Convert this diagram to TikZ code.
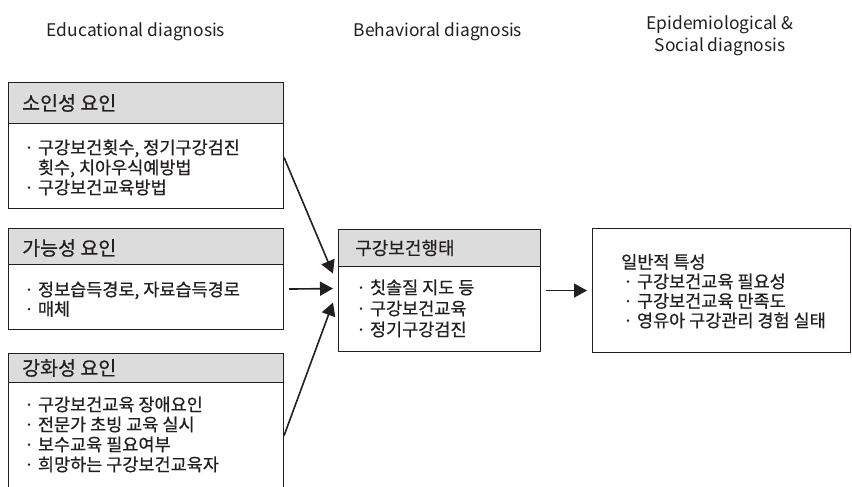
\documentclass[tikz,border=0pt]{standalone}
\usepackage{fontspec}
\setmainfont{Noto Sans CJK KR}
\newfontfamily\kfont{Noto Sans CJK KR}[FakeBold=0.5]
\usetikzlibrary{arrows.meta}
\definecolor{ink}{HTML}{231F20}
\definecolor{hdrgray}{HTML}{DCDCDC}
\tikzset{
  boxframe/.style={draw=ink, line width=1.1pt, fill=white, inner sep=0pt, anchor=north west},
  hdrbox/.style={draw=ink, line width=1.1pt, fill=hdrgray, inner sep=0pt, anchor=north west},
  hdrtext/.style={anchor=west, inner sep=0pt, text=ink, font=\kfont\fontsize{19.5}{22}\selectfont},
  bodytext/.style={anchor=base west, inner sep=0pt, text=ink, align=left, font=\kfont\fontsize{17.5}{20}\selectfont},
  coltitle/.style={anchor=center, inner sep=0pt, text=ink, align=center, font=\fontsize{17.4}{21.5}\selectfont},
  arr/.style={draw=ink, line width=1.6pt, -{Triangle[length=13pt,width=14pt]}}
}
\begin{document}
\begin{tikzpicture}[x=1pt,y=-1pt]
\useasboundingbox (0,0) rectangle (852,487);
% column titles
\node[coltitle] (t1) at (136,32) {Educational diagnosis};
\node[coltitle] (t2) at (438,32) {Behavioral diagnosis};
\node[coltitle] (t3) at (720,36) {Epidemiological \&\\Social diagnosis};
% box 1
\node[boxframe, minimum width=275pt, minimum height=126pt] (b1) at (8,82) {};
\node[hdrbox, minimum width=275pt, minimum height=41pt] (h1) at (8,82) {};
\node[hdrtext] (h1t) at (22,103) {소인성 요인};
\node[bodytext] (b1t) at (24,194) {· 구강보건횟수, 정기구강검진\\\hphantom{· }횟수, 치아우식예방법\\· 구강보건교육방법};
% box 2
\node[boxframe, minimum width=275pt, minimum height=101pt] (b2) at (8,228) {};
\node[hdrbox, minimum width=275pt, minimum height=36pt] (h2) at (8,228) {};
\node[hdrtext] (h2t) at (22,248) {가능성 요인};
\node[bodytext, font=\kfont\fontsize{17.5}{19.5}\selectfont] (b2t) at (24,315.5) {· 정보습득경로, 자료습득경로\\· 매체};
% box 3
\node[boxframe, minimum width=275pt, minimum height=140pt] (b3) at (8,353) {};
\node[hdrbox, minimum width=275pt, minimum height=29pt] (h3) at (8,353) {};
\node[hdrtext] (h3t) at (22,368) {강화성 요인};
\node[bodytext] (b3t) at (24,471) {· 구강보건교육 장애요인\\· 전문가 초빙 교육 실시\\· 보수교육 필요여부\\· 희망하는 구강보건교육자};
% middle box
\node[boxframe, minimum width=202pt, minimum height=122pt] (m) at (338,229) {};
\node[hdrbox, minimum width=202pt, minimum height=37pt] (mh) at (338,229) {};
\node[hdrtext, font=\kfont\fontsize{18}{21}\selectfont] (mht) at (355,248) {구강보건행태};
\node[bodytext, font=\kfont\fontsize{17.5}{21}\selectfont] (mt) at (356,336) {· 칫솔질 지도 등\\· 구강보건교육\\· 정기구강검진};
% right box
\node[boxframe, minimum width=258pt, minimum height=124pt] (r) at (592,228) {};
\node[bodytext, font=\kfont\fontsize{17.5}{19.5}\selectfont] (rt) at (621,327) {일반적 특성\\\hspace{2pt}· 구강보건교육 필요성\\\hspace{2pt}· 구강보건교육 만족도\\\hspace{2pt}· 영유아 구강관리 경험 실태};
% arrows
\draw[arr] ([yshift=-12pt]b1.east) -- ([xshift=-5pt,yshift=17pt]m.west);
\draw[arr] ([xshift=5pt,yshift=-10pt]b2.east) -- ([xshift=-5pt,yshift=2pt]m.west);
\draw[arr] ([yshift=-12pt]b3.east) -- ([xshift=-5pt,yshift=-12pt]m.west);
\draw[arr] ([xshift=5pt]m.east) -- ([xshift=-5pt]r.west);
\end{tikzpicture}
\end{document}
